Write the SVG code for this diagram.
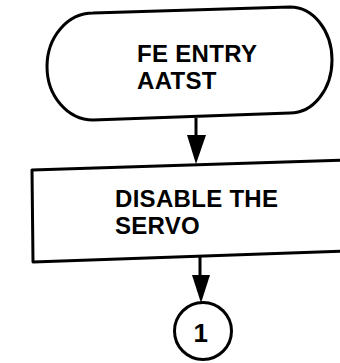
<svg xmlns="http://www.w3.org/2000/svg" width="340" height="363" viewBox="0 0 340 363">
<style>
.s{fill:#fff;stroke:#000;stroke-width:3;stroke-linejoin:round}
.t{font-family:"Liberation Sans",Arial,sans-serif;font-weight:bold;font-size:24px;letter-spacing:0.3px;fill:#000}
.c{stroke:#000;stroke-width:3;fill:none}
.h{fill:#000;stroke:none}
</style>
<rect width="340" height="363" fill="#fff"/>
<g id="start">
<path class="s" d="M93,13 L290,7 A42,53 0 0 1 290,113 L93,120 A46,53.5 0 0 1 93,13 Z"/>
<text class="t" x="137" y="62">FE ENTRY</text>
<text class="t" x="137" y="89">AATST</text>
</g>
<g id="disable">
<path class="s" d="M32,170 L345,160 L345,251 L33,262 Z"/>
<text class="t" x="115" y="207">DISABLE THE</text>
<text class="t" x="115" y="234">SERVO</text>
</g>
<g id="conn1">
<circle class="s" cx="203" cy="331" r="28.5"/>
<text class="t" x="201" y="342" text-anchor="middle" style="font-size:26px">1</text>
</g>
<g id="connectors">
<line class="c" x1="196" y1="118" x2="196" y2="140"/>
<polygon class="h" points="187,135 206,135 196,164"/>
<line class="c" x1="200" y1="257" x2="200" y2="280"/>
<polygon class="h" points="192,275 210,275 201,303"/>
</g>
</svg>
